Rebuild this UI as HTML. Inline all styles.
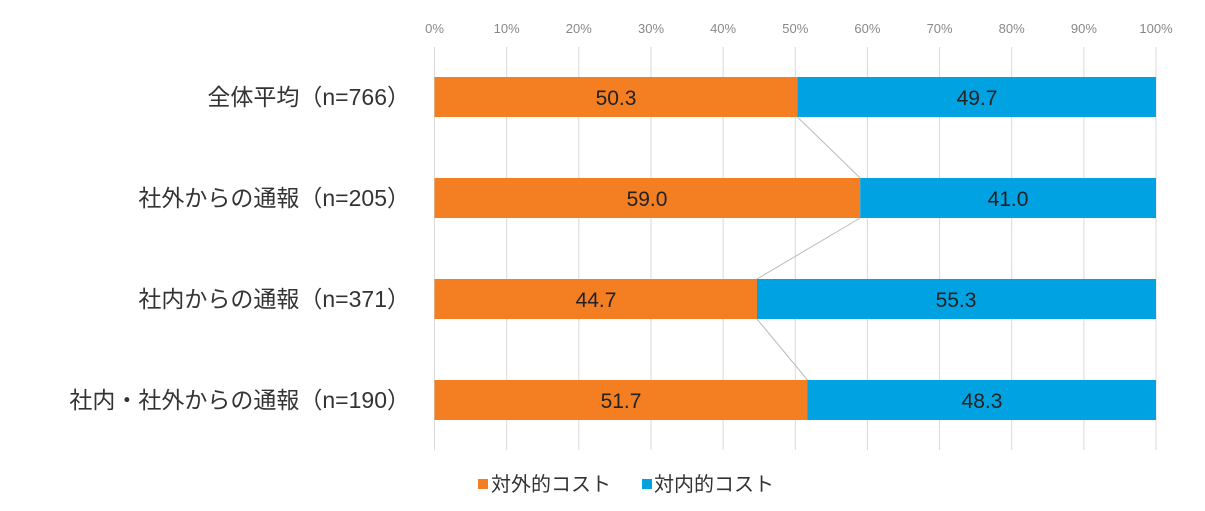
<!DOCTYPE html>
<html><head><meta charset="utf-8"><style>
body{margin:0;background:#fff}
text{font-family:"Liberation Sans","Noto Sans CJK JP",sans-serif}
</style></head><body>
<svg width="1205" height="506" xmlns="http://www.w3.org/2000/svg">
<g stroke="#d9d9d9" stroke-width="1">
<line x1="434.5" y1="47" x2="434.5" y2="450"/><line x1="506.7" y1="47" x2="506.7" y2="450"/><line x1="578.8" y1="47" x2="578.8" y2="450"/><line x1="651" y1="47" x2="651" y2="450"/><line x1="723.1" y1="47" x2="723.1" y2="450"/><line x1="795.3" y1="47" x2="795.3" y2="450"/><line x1="867.4" y1="47" x2="867.4" y2="450"/><line x1="939.6" y1="47" x2="939.6" y2="450"/><line x1="1011.7" y1="47" x2="1011.7" y2="450"/><line x1="1083.9" y1="47" x2="1083.9" y2="450"/><line x1="1156" y1="47" x2="1156" y2="450"/>
</g>
<g font-size="13" fill="#888" text-anchor="middle">
<text x="434.5" y="33">0%</text><text x="506.7" y="33">10%</text><text x="578.8" y="33">20%</text><text x="651" y="33">30%</text><text x="723.1" y="33">40%</text><text x="795.3" y="33">50%</text><text x="867.4" y="33">60%</text><text x="939.6" y="33">70%</text><text x="1011.7" y="33">80%</text><text x="1083.9" y="33">90%</text><text x="1156" y="33">100%</text>
</g>
<g stroke="#bbb" stroke-width="1">
<line x1="797.4" y1="117" x2="860.2" y2="178"/>
<line x1="860.2" y1="218" x2="757" y2="279"/>
<line x1="757" y1="319" x2="807.5" y2="380"/>
</g>
<rect x="434.5" y="77" width="362.9" height="40" fill="#f37f22"/><rect x="797.4" y="77" width="358.6" height="40" fill="#00a2e2"/>
<rect x="434.5" y="178" width="425.7" height="40" fill="#f37f22"/><rect x="860.2" y="178" width="295.8" height="40" fill="#00a2e2"/>
<rect x="434.5" y="279" width="322.5" height="40" fill="#f37f22"/><rect x="757" y="279" width="399" height="40" fill="#00a2e2"/>
<rect x="434.5" y="380" width="373" height="40" fill="#f37f22"/><rect x="807.5" y="380" width="348.5" height="40" fill="#00a2e2"/>
<g font-size="21" fill="#222" text-anchor="middle">
<text x="616" y="105">50.3</text><text x="977" y="105">49.7</text>
<text x="647" y="206">59.0</text><text x="1008" y="206">41.0</text>
<text x="596" y="307">44.7</text><text x="956" y="307">55.3</text>
<text x="621" y="408">51.7</text><text x="982" y="408">48.3</text>
</g>
<g font-size="23" fill="#333" text-anchor="end">
<text x="410" y="105">全体平均（n=766）</text>
<text x="410" y="206">社外からの通報（n=205）</text>
<text x="410" y="307">社内からの通報（n=371）</text>
<text x="410" y="408">社内・社外からの通報（n=190）</text>
</g>
<rect x="478" y="479" width="10" height="10" fill="#f37f22"/>
<text x="491" y="491" font-size="20" fill="#333">対外的コスト</text>
<rect x="642" y="479" width="10" height="10" fill="#00a2e2"/>
<text x="654" y="491" font-size="20" fill="#333">対内的コスト</text>
</svg>
</body></html>
